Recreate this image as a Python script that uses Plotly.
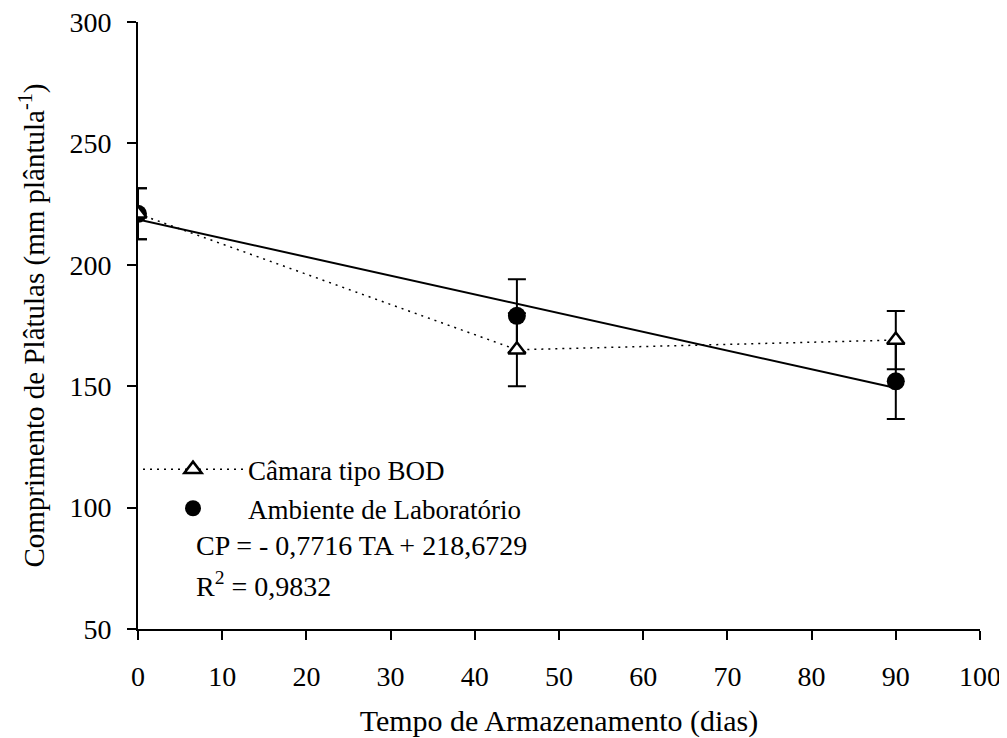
import plotly.graph_objects as go

days = [0, 45, 90]
bod_values = [221, 165, 169]
bod_err = [10.5, 15, 12]
lab_values = [221, 179, 152]
lab_err = [10.5, 15, 15.5]
reg_slope = -0.7716
reg_intercept = 218.6729
reg_x = [0, 90]
reg_y = [reg_intercept + reg_slope * v for v in reg_x]

x_ticks = list(range(0, 101, 10))
y_ticks = list(range(50, 301, 50))

FONT = "Liberation Serif"

fig = go.Figure()

fig.add_trace(go.Scatter(
    x=reg_x, y=reg_y, mode="lines",
    line=dict(color="black", width=2),
    showlegend=False, hoverinfo="skip"))

fig.add_trace(go.Scatter(
    x=days, y=lab_values, mode="markers", name="Ambiente de Laboratório",
    marker=dict(symbol="circle", size=18, color="black"),
    error_y=dict(type="data", array=lab_err, color="black", thickness=2, width=9),
    legendgroup="b", legendrank=2))

fig.add_trace(go.Scatter(
    x=days, y=bod_values, mode="lines+markers", name="Câmara tipo BOD",
    line=dict(color="black", width=1.5, dash="2px,5px"),
    marker=dict(symbol="triangle-up", size=15, color="white",
                line=dict(color="black", width=2.5)),
    error_y=dict(type="data", array=bod_err, color="black", thickness=2, width=9),
    legendgroup="a", legendrank=1))

fig.add_annotation(x=0.067, y=0.138, xref="paper", yref="paper",
                   text="CP = - 0,7716 TA + 218,6729", showarrow=False,
                   xanchor="left", yanchor="middle",
                   font=dict(family=FONT, size=28, color="black"))
fig.add_annotation(x=0.067, y=0.074, xref="paper", yref="paper",
                   text="R<sup>2</sup> = 0,9832", showarrow=False,
                   xanchor="left", yanchor="middle",
                   font=dict(family=FONT, size=28, color="black"))

fig.update_layout(
    width=999, height=730,
    margin=dict(l=130, r=27, t=14, b=109),
    paper_bgcolor="white", plot_bgcolor="white",
    font=dict(family=FONT, size=28, color="black"),
    legend=dict(x=0.0, y=0.303, xanchor="left", yanchor="top",
                bgcolor="rgba(0,0,0,0)", font=dict(family=FONT, size=27),
                tracegroupgap=1, itemwidth=100),
    xaxis=dict(range=[0, 100], tickvals=x_ticks, showline=True,
               linecolor="black", linewidth=2, ticks="outside", ticklen=9,
               tickwidth=2, tickcolor="black", showgrid=False, zeroline=False,
               automargin=False, ticklabelstandoff=12, ticklabeloverflow="allow",
               title=dict(text="Tempo de Armazenamento (dias)", standoff=20,
                          font=dict(family=FONT, size=30)),
               tickfont=dict(family=FONT, size=28)),
    yaxis=dict(range=[50, 300], tickvals=y_ticks, showline=True,
               linecolor="black", linewidth=2, ticks="outside", ticklen=9,
               tickwidth=2, tickcolor="black", showgrid=False, zeroline=False,
               automargin=False, ticklabelstandoff=10, ticklabeloverflow="allow",
               title=dict(text="Comprimento de Plâtulas (mm plântula<sup>-1</sup>)",
                          standoff=16, font=dict(family=FONT, size=29)),
               tickfont=dict(family=FONT, size=28)),
)

fig.write_html("out.html")
